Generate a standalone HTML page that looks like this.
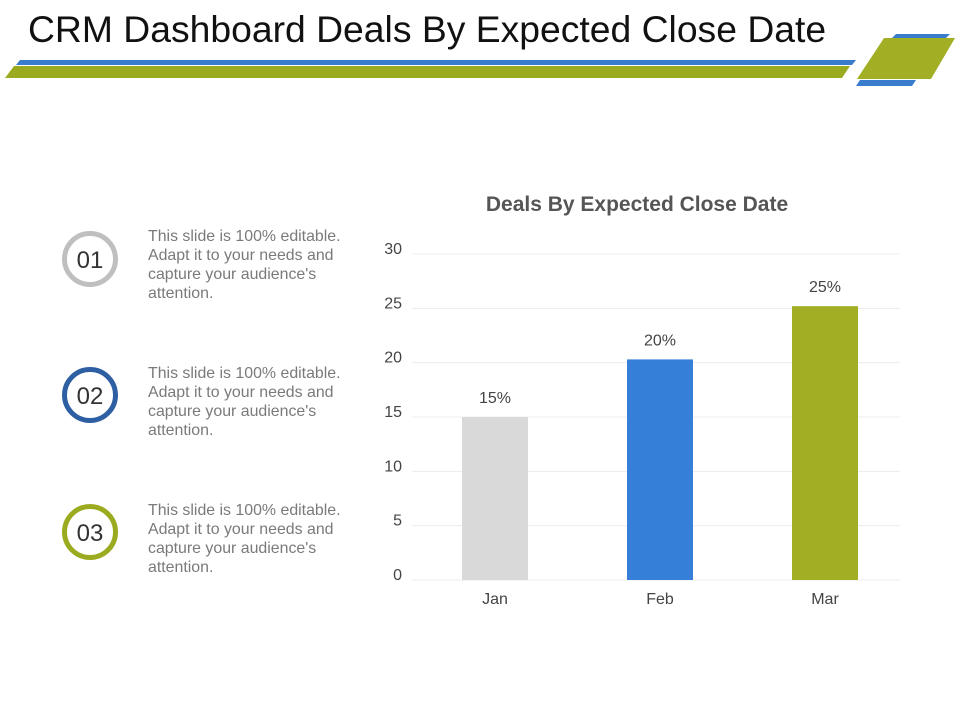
<!DOCTYPE html>
<html><head><meta charset="utf-8"><style>
body{margin:0;background:#fff;width:960px;height:720px;overflow:hidden;font-family:"Liberation Sans",Arial,sans-serif}
</style></head><body>
<svg width="960" height="720" xmlns="http://www.w3.org/2000/svg" font-family="Liberation Sans, Arial, sans-serif">
<text x="28" y="42" font-size="37.3" fill="#111">CRM Dashboard Deals By Expected Close Date</text>
<polygon points="20,60 856,60 852,65 16,65" fill="#3a7ccc"/>
<polygon points="14,66 850,66 842,78 5,78" fill="#9aab1f"/>
<polygon points="896,34 950,34 946,38 892,38" fill="#3a7ccc"/>
<polygon points="884,38 955,38 931,79 857,79" fill="#a2ae24"/>
<polygon points="860,80 916,80 912,86 856,86" fill="#3a7ccc"/>

<g>
<circle cx="90" cy="259" r="25.5" fill="none" stroke="#bfbfbf" stroke-width="5"/>
<text x="90" y="268" font-size="24" text-anchor="middle" fill="#333">01</text>
<text font-size="15.9" fill="#7a7a7a"><tspan x="148" y="241">This slide is 100% editable.</tspan><tspan x="148" y="260">Adapt it to your needs and</tspan><tspan x="148" y="279">capture your audience's</tspan><tspan x="148" y="298">attention.</tspan></text>
</g>
<g>
<circle cx="90" cy="395" r="25.5" fill="none" stroke="#2e5fa3" stroke-width="5"/>
<text x="90" y="404" font-size="24" text-anchor="middle" fill="#333">02</text>
<text font-size="15.9" fill="#7a7a7a"><tspan x="148" y="378">This slide is 100% editable.</tspan><tspan x="148" y="397">Adapt it to your needs and</tspan><tspan x="148" y="416">capture your audience's</tspan><tspan x="148" y="435">attention.</tspan></text>
</g>
<g>
<circle cx="90" cy="532" r="25.5" fill="none" stroke="#9aab1f" stroke-width="5"/>
<text x="90" y="541" font-size="24" text-anchor="middle" fill="#333">03</text>
<text font-size="15.9" fill="#7a7a7a"><tspan x="148" y="515">This slide is 100% editable.</tspan><tspan x="148" y="534">Adapt it to your needs and</tspan><tspan x="148" y="553">capture your audience's</tspan><tspan x="148" y="572">attention.</tspan></text>
</g>

<text x="637" y="211" font-size="21" font-weight="bold" fill="#555" text-anchor="middle">Deals By Expected Close Date</text>
<g id="chart"></g>
</svg>
<script>
const categories = ["Jan", "Feb", "Mar"];
const values = [15, 20.3, 25.2];
const valueLabels = ["15%", "20%", "25%"];
const ticks = [0, 5, 10, 15, 20, 25, 30];
const colors = ["#d9d9d9", "#357fd9", "#a2ae24"];
const NS = "http://www.w3.org/2000/svg";
const g = document.getElementById("chart");
const x0 = 412, x1 = 900, yBase = 580, yTop = 254, yMax = 30;
function y(v){ return yBase - (v / yMax) * (yBase - yTop); }
const band = 165;
function xc(i){ return 495 + band * i; }
function mk(tag, attrs){ const e = document.createElementNS(NS, tag); for (const k in attrs) e.setAttribute(k, attrs[k]); g.appendChild(e); return e; }
ticks.forEach(t => {
  const l = mk("line", {x1: x0, x2: x1, y1: y(t), y2: y(t), stroke: "#ececec", "stroke-width": 1});
  
  
  const tx = mk("text", {x: 402, y: y(t), "font-size": 16, fill: "#444", "text-anchor": "end"});
  tx.textContent = t;
  
  
});
const bw = 66;
categories.forEach((c, i) => {
  const b = mk("rect", {x: xc(i) - bw / 2, y: y(values[i]), width: bw, height: yBase - y(values[i]), fill: colors[i]});
  
  
  const vl = mk("text", {x: xc(i), y: y(values[i]) - 14, "font-size": 16, fill: "#444", "text-anchor": "middle"});
  vl.textContent = valueLabels[i];
  
  
  const cl = mk("text", {x: xc(i), y: 604, "font-size": 16, fill: "#444", "text-anchor": "middle"});
  cl.textContent = c;
  
  
});
</script>
</body></html>
